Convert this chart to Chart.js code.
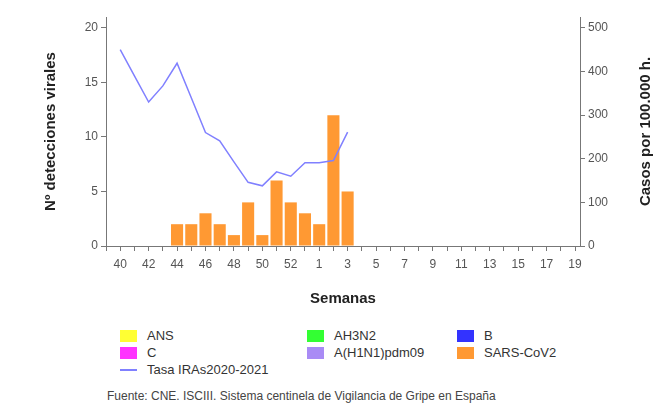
<!DOCTYPE html>
<html lang="es">
<head>
<meta charset="UTF-8">
<title>Detecciones virales y tasa IRAs</title>
<script src="https://cdn.jsdelivr.net/npm/chart.js"></script>
<style>
    body { margin: 0; width: 658px; height: 410px; background: #fff; position: relative; overflow: hidden;
           font-family: "Liberation Sans", Arial, sans-serif; }
    #wrap { position: absolute; left: 0; top: 0; width: 658px; height: 312px; }
    #legend { position: absolute; left: 120px; top: 327px; display: grid;
              grid-template-columns: 187px 150px 150px; grid-auto-rows: 17px; font-size: 13px; color: #333; }
    .item { display: flex; align-items: center; }
    .sw { width: 17px; height: 12px; margin-right: 10px; }
    .ln { width: 17px; height: 2px; margin-right: 10px; }
    #source { position: absolute; left: 107px; top: 389px; font-size: 12px; color: #444; }
</style>
</head>
<body>
<div id="wrap"><canvas id="chart"></canvas></div>
<div id="legend"></div>
<div id="source">Fuente: CNE. ISCIII. Sistema centinela de Vigilancia de Gripe en España</div>

<script>
// semanas epidemiologicas (temporada 2020-2021)
const semanas = [40, 41, 42, 43, 44, 45, 46, 47, 48, 49, 50, 51, 52, 53,
                 1, 2, 3, 4, 5, 6, 7, 8, 9, 10, 11, 12, 13, 14, 15, 16, 17, 18, 19];

// detecciones virales por semana (solo SARS-CoV2 tiene datos)
const ans = [];
const ah3n2 = [];
const virusB = [];
const virusC = [];
const h1n1 = [];
const sarsCov2 = [null, null, null, null, 2, 2, 3, 2, 1, 4, 1, 6, 4, 3, 2, 12, 5];

// tasa IRAs por 100.000 h.
const tasaIRAs = [450, 390, 330, 367, 419, 340, 260, 241, 193, 146, 138, 170, 160, 191, 191, 196, 261];

const leftTicks = [0, 5, 10, 15, 20];
const rightTicks = [0, 100, 200, 300, 400, 500];

function toPoints(values) {
    return values.map((v, i) => ({ x: i, y: v }));
}

const axisColor = '#777';
const tickFont = { family: 'Liberation Sans', size: 12 };
const titleFont = { family: 'Liberation Sans', size: 15, weight: 'bold' };

function barSet(label, values, color) {
    return {
        type: 'bar', label: label, data: toPoints(values), yAxisID: 'y',
        backgroundColor: color, borderWidth: 0, grouped: false,
        barPercentage: 0.85, categoryPercentage: 1
    };
}

// titulo del eje derecho, leido de abajo arriba como el izquierdo
const rightTitle = {
    id: 'rightTitle',
    afterDraw(chart) {
        const { ctx, chartArea } = chart;
        ctx.save();
        ctx.translate(646, (chartArea.top + chartArea.bottom) / 2);
        ctx.rotate(-Math.PI / 2);
        ctx.font = 'bold 15px "Liberation Sans"';
        ctx.fillStyle = '#222';
        ctx.textAlign = 'center';
        ctx.textBaseline = 'middle';
        ctx.fillText('Casos por 100.000 h.', 0, 0);
        ctx.restore();
    }
};

const chart = new Chart(document.getElementById('chart'), {
    data: {
        datasets: [
            barSet('ANS', ans, '#ffff33'),
            barSet('AH3N2', ah3n2, '#33ff33'),
            barSet('B', virusB, '#3333ff'),
            barSet('C', virusC, '#ff33ff'),
            barSet('A(H1N1)pdm09', h1n1, '#a98bf5'),
            barSet('SARS-CoV2', sarsCov2, '#ff9933'),
            {
                type: 'line', label: 'Tasa IRAs2020-2021', data: toPoints(tasaIRAs), yAxisID: 'y1',
                borderColor: '#8080ff', borderWidth: 1.5, pointRadius: 0, tension: 0, fill: false, order: -1
            }
        ]
    },
    options: {
        responsive: true,
        maintainAspectRatio: false,
        animation: false,
        layout: { padding: { top: 17, left: 0, right: 0, bottom: 0 } },
        plugins: { legend: { display: false }, tooltip: { enabled: false } },
        scales: {
            x: {
                type: 'linear', min: -1, max: 32.35, offset: false,
                grid: { drawOnChartArea: false, color: axisColor, tickLength: 5, offset: false },
                border: { color: axisColor },
                ticks: {
                    stepSize: 1, autoSkip: false, maxRotation: 0, includeBounds: false,
                    color: '#555', font: tickFont, padding: 6,
                    callback: (v) => (v >= 0 && v % 2 === 0) ? String(semanas[v]) : ''
                },
                title: { display: true, text: 'Semanas', color: '#222', font: titleFont, padding: { top: 0, bottom: 4 } },
                afterFit: (s) => { s.height = 66; }
            },
            y: {
                position: 'left', min: 0, max: 21,
                grid: { drawOnChartArea: false, color: axisColor, tickLength: 5 },
                border: { color: axisColor },
                afterBuildTicks: (s) => { s.ticks = leftTicks.map(v => ({ value: v })); },
                ticks: { color: '#555', font: tickFont, padding: 3 },
                title: { display: true, text: 'Nº detecciones virales', color: '#222', font: titleFont, padding: { top: 42, bottom: 0 } },
                afterFit: (s) => { s.width = 106; }
            },
            y1: {
                position: 'right', min: 0, max: 525,
                grid: { drawOnChartArea: false, color: axisColor, tickLength: 5 },
                border: { color: axisColor },
                afterBuildTicks: (s) => { s.ticks = rightTicks.map(v => ({ value: v })); },
                ticks: { color: '#555', font: tickFont, padding: 3 },
                afterFit: (s) => { s.width = 78; }
            }
        }
    },
    plugins: [rightTitle]
});

// leyenda en tres columnas
const legend = document.getElementById('legend');
chart.data.datasets.forEach(ds => {
    const item = document.createElement('div');
    item.className = 'item';
    const mark = document.createElement('span');
    if (ds.type === 'line') {
        mark.className = 'ln';
        mark.style.background = ds.borderColor;
    } else {
        mark.className = 'sw';
        mark.style.background = ds.backgroundColor;
    }
    item.appendChild(mark);
    item.appendChild(document.createTextNode(ds.label));
    legend.appendChild(item);
});
</script>
</body>
</html>
